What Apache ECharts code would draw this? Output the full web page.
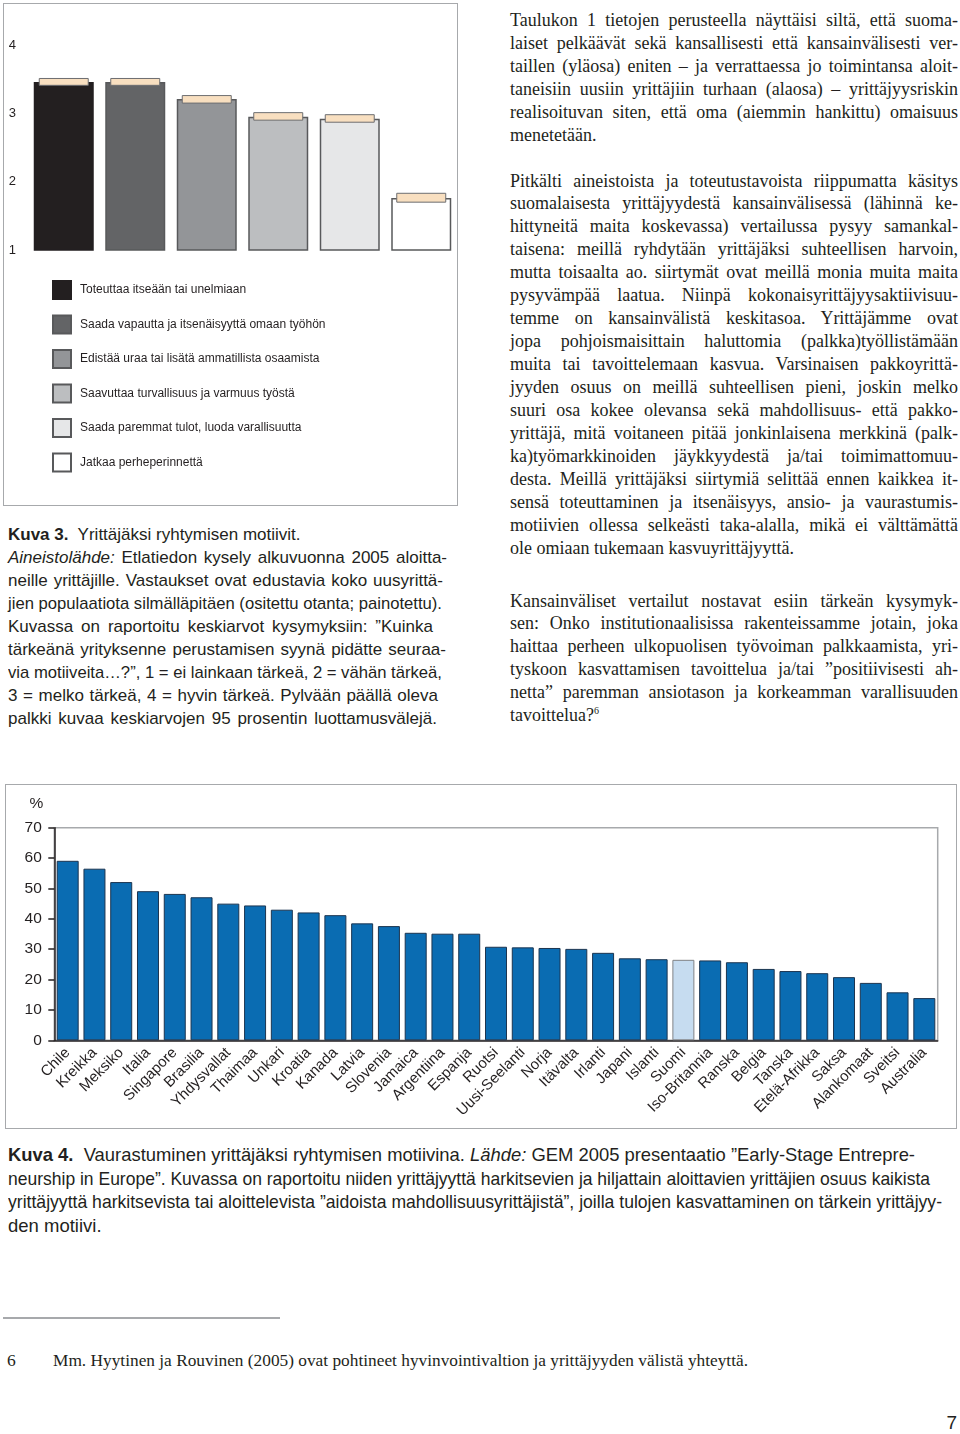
<!DOCTYPE html>
<html><head><meta charset="utf-8">
<script src="https://cdn.jsdelivr.net/npm/echarts@6/dist/echarts.min.js"></script>
<style>
html,body{margin:0;padding:0;background:#fff;}
body{width:960px;height:1434px;position:relative;overflow:hidden;color:#231f20;}
.box{position:absolute;border:1.5px solid #a7a9ac;box-sizing:border-box;}
.ln{position:absolute;white-space:nowrap;}
.serif{font-family:"Liberation Serif","Times New Roman",serif;font-size:18px;line-height:23px;}
.sans{font-family:"Liberation Sans",Arial,sans-serif;font-size:17px;line-height:23px;}
.sans2{font-family:"Liberation Sans",Arial,sans-serif;font-size:18.5px;line-height:23.5px;}
.fn{font-family:"Liberation Serif","Times New Roman",serif;font-size:17.5px;line-height:20px;}
sup{font-size:10px;line-height:0;vertical-align:7px;}
#c1{position:absolute;left:0;top:0;width:460px;height:510px;}
#c2{position:absolute;left:0;top:780px;width:960px;height:350px;}
</style>
</head><body>
<div class="box" style="left:3px;top:3px;width:455px;height:503px;"></div>
<div id="c1"></div>
<div class="box" style="left:5px;top:784px;width:952px;height:345px;"></div>
<div id="c2"></div>
<div id="txt"></div>
<div style="position:absolute;left:3px;top:1317px;width:277px;height:1.5px;background:#a7a9ac;"></div>
<div class="ln fn" style="left:7px;top:1350px;">6</div>
<div class="ln fn" data-w="695" style="left:53px;top:1350px;">Mm. Hyytinen ja Rouvinen (2005) ovat pohtineet hyvinvointivaltion ja yrittäjyyden välistä yhteyttä.</div>
<div class="ln sans" style="right:3px;top:1411px;font-size:19px;">7</div>
<script>
// ---- Data: Kuva 3 ----
const motives = ['Toteuttaa itseään tai unelmiaan','Saada vapautta ja itsenäisyyttä omaan työhön','Edistää uraa tai lisätä ammatillista osaamista','Saavuttaa turvallisuus ja varmuus työstä','Saada paremmat tulot, luoda varallisuutta','Jatkaa perheperinnettä'];
const motiveMeans = [3.46, 3.46, 3.21, 2.95, 2.92, 1.76];
const ciLow  = [3.41, 3.41, 3.15, 2.90, 2.87, 1.70];
const ciHigh = [3.51, 3.51, 3.26, 3.01, 2.98, 1.83];
const motiveTicks = [1, 2, 3, 4];
// ---- Data: Kuva 4 ----
const countries = ['Chile','Kreikka','Meksiko','Italia','Singapore','Brasilia','Yhdysvallat','Thaimaa','Unkari','Kroatia','Kanada','Latvia','Slovenia','Jamaica','Argentiina','Espanja','Ruotsi','Uusi-Seelanti','Norja','Itävalta','Irlanti','Japani','Islanti','Suomi','Iso-Britannia','Ranska','Belgia','Tanska','Etelä-Afrikka','Saksa','Alankomaat','Sveitsi','Australia'];
const wealthShare = [59.1, 56.5, 52.1, 49.1, 48.2, 47.1, 45.0, 44.4, 43.0, 42.1, 41.2, 38.5, 37.6, 35.4, 35.1, 35.1, 30.8, 30.6, 30.4, 30.1, 28.8, 27.0, 26.7, 26.5, 26.3, 25.7, 23.5, 22.8, 22.1, 20.8, 18.9, 15.8, 13.9];
const highlighted = 'Suomi';
const shareTicks = [0, 10, 20, 30, 40, 50, 60, 70];

// ---- Text ----
const rightParas = [
 {top:9, lines:['Taulukon 1 tietojen perusteella näyttäisi siltä, että suoma-','laiset pelkäävät sekä kansallisesti että kansainvälisesti ver-','taillen (yläosa) eniten – ja verrattaessa jo toimintansa aloit-','taneisiin uusiin yrittäjiin turhaan (alaosa) – yrittäjyysriskin','realisoituvan siten, että oma (aiemmin hankittu) omaisuus','menetetään.']},
 {top:169.5, lines:['Pitkälti aineistoista ja toteutustavoista riippumatta käsitys','suomalaisesta yrittäjyydestä kansainvälisessä (lähinnä ke-','hittyneitä maita koskevassa) vertailussa pysyy samankal-','taisena: meillä ryhdytään yrittäjäksi suhteellisen harvoin,','mutta toisaalta ao. siirtymät ovat meillä monia muita maita','pysyvämpää laatua. Niinpä kokonaisyrittäjyysaktiivisuu-','temme on kansainvälistä keskitasoa. Yrittäjämme ovat','jopa pohjoismaisittain haluttomia (palkka)työllistämään','muita tai tavoittelemaan kasvua. Varsinaisen pakkoyrittä-','jyyden osuus on meillä suhteellisen pieni, joskin melko','suuri osa kokee olevansa sekä mahdollisuus- että pakko-','yrittäjä, mitä voitaneen pitää jonkinlaisena merkkinä (palk-','ka)työmarkkinoiden jäykkyydestä ja/tai toimimattomuu-','desta. Meillä yrittäjäksi siirtymiä selittää ennen kaikkea it-','sensä toteuttaminen ja itsenäisyys, ansio- ja vaurastumis-','motiivien ollessa selkeästi taka-alalla, mikä ei välttämättä','ole omiaan tukemaan kasvuyrittäjyyttä.']},
 {top:589.5, lines:['Kansainväliset vertailut nostavat esiin tärkeän kysymyk-','sen: Onko institutionaalisissa rakenteissamme jotain, joka','haittaa perheen ulkopuolisen työvoiman palkkaamista, yri-','tyskoon kasvattamisen tavoittelua ja/tai ”positiivisesti ah-','netta” paremman ansiotason ja korkeamman varallisuuden','tavoittelua?<sup>6</sup>']}
];
const cap3 = [
 ['<b>Kuva 3.</b>&nbsp; Yrittäjäksi ryhtymisen motiivit.', 0],
 ['<i>Aineistolähde:</i> Etlatiedon kysely alkuvuonna 2005 aloitta-', 447],
 ['neille yrittäjille. Vastaukset ovat edustavia koko uusyrittä-', 443],
 ['jien populaatiota silmälläpitäen (ositettu otanta; painotettu).', 442],
 ['Kuvassa on raportoitu keskiarvot kysymyksiin: ”Kuinka', 433],
 ['tärkeänä yrityksenne perustamisen syynä pidätte seuraa-', 446],
 ['via motiiveita…?”, 1 = ei lainkaan tärkeä, 2 = vähän tärkeä,', 442],
 ['3 = melko tärkeä, 4 = hyvin tärkeä. Pylvään päällä oleva', 438],
 ['palkki kuvaa keskiarvojen 95 prosentin luottamusvälejä.', 437]
];
const cap4 = [
 ['<b>Kuva 4.</b>&nbsp; Vaurastuminen yrittäjäksi ryhtymisen motiivina. <i>Lähde:</i> GEM 2005 presentaatio ”Early-Stage Entrepre-', 915],
 ['neurship in Europe”. Kuvassa on raportoitu niiden yrittäjyyttä harkitsevien ja hiljattain aloittavien yrittäjien osuus kaikista', 930],
 ['yrittäjyyttä harkitsevista tai aloittelevista ”aidoista mahdollisuusyrittäjistä”, joilla tulojen kasvattaminen on tärkein yrittäjyy-', 942],
 ['den motiivi.', 0]
];

const txt = document.getElementById('txt');
function addLine(cls, left, top, html, right){
  const d = document.createElement('div');
  d.className = 'ln ' + cls;
  d.style.left = left + 'px';
  d.style.top = top + 'px';
  d.innerHTML = html;
  if (right) d.dataset.w = right - left;
  txt.appendChild(d);
}
rightParas.forEach(p => p.lines.forEach((l, i) => addLine('serif', 510, p.top + i * 22.95, l, i < p.lines.length - 1 ? 958 : 0)));
cap3.forEach((l, i) => addLine('sans', 8, 522.5 + i * 23, l[0], l[1]));
cap4.forEach((l, i) => addLine('sans2', 8, 1143 + i * 23.5, l[0], l[1]));

function fit(){
  document.querySelectorAll('[data-w]').forEach(el => {
    const w = +el.dataset.w;
    el.style.width = 'auto'; el.style.transform = ''; el.style.textAlign = ''; el.style.textAlignLast = '';
    const nat = el.getBoundingClientRect().width;
    if (nat > w) { el.style.transformOrigin = '0 0'; el.style.transform = 'scaleX(' + (w / nat) + ')'; }
    else { el.style.width = w + 'px'; el.style.textAlign = 'justify'; el.style.textAlignLast = 'justify'; }
  });
}
fit();
if (document.fonts && document.fonts.ready) document.fonts.ready.then(fit);

// ---- Chart 1 ----
const greys = ['#231f20','#636466','#939598','#bcbec0','#e6e7e8','#ffffff'];
const c1 = echarts.init(document.getElementById('c1'), null, {renderer:'canvas'});
const barSeries = motives.map((name, k) => ({
  type:'bar', name, barWidth:60, barGap:'-100%',
  itemStyle:{color:greys[k], borderColor:k === 0 ? '#231f20' : '#58595b', borderWidth:1.5},
  data: motiveMeans.map((v, i) => i === k ? v : '-'),
  z:2
}));
c1.setOption({
  animation:false,
  grid:{left:28, top:45, width:429, height:205},
  legend:{data:motives, orient:'vertical', left:52, top:280, padding:0, itemWidth:18, itemHeight:18, itemGap:14.5, icon:'rect',
    textStyle:{fontFamily:'"Liberation Sans",Arial,sans-serif', fontSize:12, lineHeight:18, color:'#231f20', padding:[0,0,0,4]}},
  xAxis:{type:'category', data:motives, show:false},
  yAxis:{type:'value', min:motiveTicks[0], max:motiveTicks[motiveTicks.length-1], interval:1,
    axisLine:{show:false}, axisTick:{show:false}, splitLine:{show:false},
    axisLabel:{margin:12, fontSize:13, color:'#231f20', fontFamily:'"Liberation Sans",Arial,sans-serif'}},
  series: barSeries.concat([{
    type:'custom', name:'CI', z:3,
    data: ciLow.map((l, i) => [i, l, ciHigh[i]]),
    encode:{x:0, y:[1,2]},
    renderItem:(params, api) => {
      const top = api.coord([api.value(0), api.value(2)]);
      const bot = api.coord([api.value(0), api.value(1)]);
      const w = api.size([1, 0])[0] * 0.685;
      return {type:'rect', shape:{x:top[0]-w/2, y:top[1], width:w, height:bot[1]-top[1]},
        style:{fill:'#f8dfc0', stroke:'#6d6e71', lineWidth:1}};
    }
  }])
});

// ---- Chart 2 ----
const c2 = echarts.init(document.getElementById('c2'), null, {renderer:'canvas'});
c2.setOption({
  animation:false,
  grid:{left:54.3, top:47.7, right:22.3, height:212.6, show:true, borderColor:'#a7a9ac', borderWidth:1.5, backgroundColor:'transparent'},
  xAxis:{type:'category', data:countries,
    axisLine:{lineStyle:{color:'#231f20', width:1.5}},
    axisTick:{alignWithLabel:true, length:7, lineStyle:{color:'#231f20', width:1.5}},
    axisLabel:{interval:0, rotate:45, margin:10, fontSize:15, color:'#231f20', fontFamily:'"Liberation Sans",Arial,sans-serif'}},
  yAxis:{type:'value', min:shareTicks[0], max:shareTicks[shareTicks.length-1], interval:10,
    name:'%', nameLocation:'end', nameGap:16,
    nameTextStyle:{fontSize:15.5, color:'#231f20', align:'center', padding:[0,36,0,0], fontFamily:'"Liberation Sans",Arial,sans-serif'},
    axisLine:{show:true, lineStyle:{color:'#231f20', width:1.5}},
    axisTick:{show:true, length:6, lineStyle:{color:'#231f20', width:1.5}},
    splitLine:{show:false},
    axisLabel:{margin:12.5, fontSize:15.5, color:'#231f20', fontFamily:'"Liberation Sans",Arial,sans-serif'}},
  series:[{
    type:'bar', barWidth:22,
    itemStyle:{color:'#0a6cb2', borderColor:'#1c3550', borderWidth:1},
    data: wealthShare.map((v, i) => countries[i] === highlighted
      ? {value:v, itemStyle:{color:'#c6dcf0', borderColor:'#808285'}} : v)
  }]
});
</script>
</body></html>
